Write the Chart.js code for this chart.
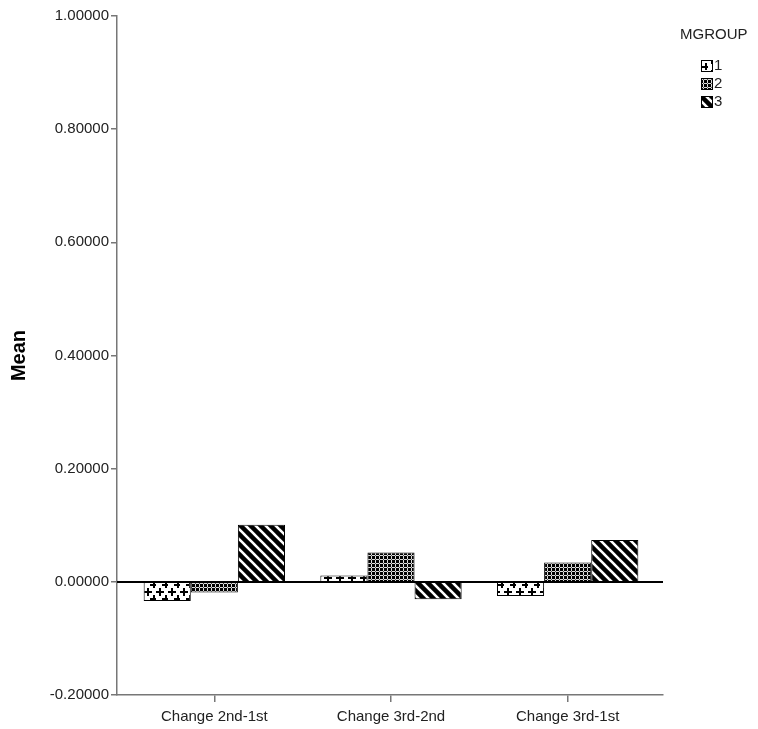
<!DOCTYPE html>
<html>
<head>
<meta charset="utf-8">
<script src="https://cdn.jsdelivr.net/npm/chart.js@4"></script>
<style>
	body { margin: 0; background: #fff; }
	#wrap { width: 758px; height: 729px; }
</style>
</head>
<body>
<div id="wrap"><canvas id="meanChart" width="758" height="729"></canvas></div>
<script>
"use strict";

const categories = ["Change 2nd-1st", "Change 3rd-2nd", "Change 3rd-1st"];
const groupNames = ["1", "2", "3"];
const group1 = [-0.034, 0.011, -0.025];
const group2 = [-0.019, 0.052, 0.034];
const group3 = [0.101, -0.031, 0.074];
const yTicks = [-0.2, 0.0, 0.2, 0.4, 0.6, 0.8, 1.0];

const FONT = "Arial, 'Liberation Sans', sans-serif";

function makeTile(w, h, draw) {
	const c = document.createElement("canvas");
	c.width = w;
	c.height = h;
	const g = c.getContext("2d");
	draw(g, w, h);
	return document.createElement("canvas").getContext("2d").createPattern(c, "repeat");
}

// white with sparse plus signs
const plusPattern = makeTile(12, 14, (g, w, h) => {
	g.fillStyle = "#fff";
	g.fillRect(0, 0, w, h);
	g.fillStyle = "#000";
	const plus = (x, y) => {
		g.fillRect(x - 3, y, 8, 2);
		g.fillRect(x, y - 3, 2, 8);
	};
	plus(3, 3);
	plus(9, 10);
});

// dense dark grid
const gridPattern = makeTile(4, 4, (g, w, h) => {
	g.fillStyle = "#ddd";
	g.fillRect(0, 0, w, h);
	g.fillStyle = "#000";
	g.fillRect(0, 0, 3, 3);
	g.fillStyle = "#555";
	g.fillRect(3, 3, 1, 1);
});

// black with white "\" stripes
const stripePattern = makeTile(10, 10, (g, w, h) => {
	g.fillStyle = "#000";
	g.fillRect(0, 0, w, h);
	g.strokeStyle = "#fff";
	g.lineWidth = 2.6;
	[-10, 0, 10].forEach(dx => {
		g.beginPath();
		g.moveTo(dx - 2, -2);
		g.lineTo(dx + 12, 12);
		g.stroke();
	});
});

const patterns = [plusPattern, gridPattern, stripePattern];

// the categories sit slightly inside the axis line, like the source
const insetCategories = {
	id: "insetCategories",
	afterLayout(chart) {
		const x = chart.scales.x;
		x._startPixel = x.left + 9;
		x._endPixel = x.right - 7;
		x._length = x._endPixel - x._startPixel;
	}
};

const zeroLine = {
	id: "zeroLine",
	afterDatasetsDraw(chart) {
		const ctx = chart.ctx;
		const y = Math.round(chart.scales.y.getPixelForValue(0));
		ctx.save();
		ctx.strokeStyle = "#000";
		ctx.lineWidth = 2;
		ctx.beginPath();
		ctx.moveTo(chart.chartArea.left, y);
		ctx.lineTo(chart.chartArea.right, y);
		ctx.stroke();
		ctx.restore();
	}
};

const sideLegend = {
	id: "sideLegend",
	afterDraw(chart) {
		const ctx = chart.ctx;
		ctx.save();
		ctx.font = "15px " + FONT;
		ctx.fillStyle = "#222";
		ctx.textBaseline = "middle";
		ctx.textAlign = "left";
		ctx.fillText("MGROUP", 680, 35);
		chart.data.datasets.forEach((ds, i) => {
			const y = 60 + i * 18;
			ctx.fillStyle = ds.backgroundColor;
			ctx.fillRect(701, y, 11, 11);
			ctx.strokeStyle = "#000";
			ctx.lineWidth = 1;
			ctx.strokeRect(701.5, y + 0.5, 11, 11);
			ctx.fillStyle = "#222";
			ctx.fillText(ds.label, 714, y + 6);
		});
		ctx.restore();
	}
};

const datasets = [group1, group2, group3].map((vals, i) => ({
	label: groupNames[i],
	data: vals,
	backgroundColor: patterns[i],
	borderColor: "#000",
	borderWidth: 1,
	barPercentage: 1.0,
	categoryPercentage: 0.8
}));

Chart.defaults.font.family = FONT;
Chart.defaults.font.size = 15;
Chart.defaults.color = "#222";

new Chart(document.querySelector("#meanChart").getContext("2d"), {
	type: "bar",
	data: {
		labels: categories,
		datasets: datasets
	},
	options: {
		responsive: false,
		animation: false,
		layout: {
			padding: { left: 0, right: 95, top: 16, bottom: 0 }
		},
		plugins: {
			legend: { display: false },
			tooltip: { enabled: false }
		},
		scales: {
			x: {
				grid: {
					offset: false,
					drawOnChartArea: false,
					tickLength: 7,
					tickColor: "#777",
					lineWidth: 1.5
				},
				border: { color: "#777", width: 1.5 },
				ticks: { padding: 6, maxRotation: 0 },
				afterFit(scale) { scale.height = 34; }
			},
			y: {
				min: -0.2,
				max: 1.0,
				afterBuildTicks(scale) {
					scale.ticks = yTicks.map(v => ({ value: v }));
				},
				ticks: {
					padding: 2,
					callback: v => v.toFixed(5)
				},
				grid: {
					drawOnChartArea: false,
					tickLength: 6,
					tickColor: "#777",
					lineWidth: 1.5
				},
				border: { color: "#777", width: 1.5 },
				title: {
					display: true,
					text: "Mean",
					font: { size: 20, weight: "bold" },
					color: "#000",
					padding: { top: 7, bottom: 0 }
				},
				afterFit(scale) { scale.width = 117; }
			}
		}
	},
	plugins: [insetCategories, zeroLine, sideLegend]
});
</script>
</body>
</html>
